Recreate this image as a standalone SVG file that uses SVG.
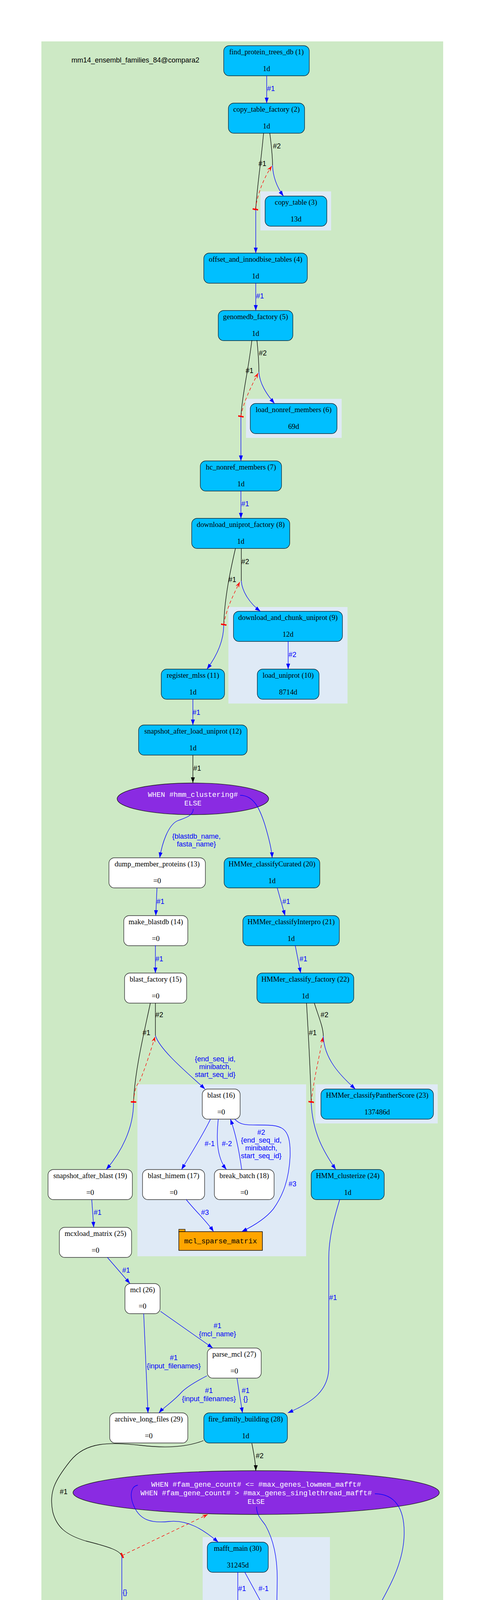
<svg xmlns="http://www.w3.org/2000/svg" width="1237" height="5248" viewBox="0 0 1237 5248">
<style>
.bg{fill:#cde9c5}
.cl{fill:#dfeaf6}
.nb{fill:#00bfff;stroke:#0c2a38;stroke-width:1.4}
.nw{fill:#ffffff;stroke:#333333;stroke-width:1.4}
.el{fill:#8a2be2;stroke:#1a1a1a;stroke-width:1.4}
.t{font-family:"Liberation Serif","Times New Roman",serif;font-size:18.67px;fill:#000;text-anchor:middle}
.m{font-family:"Liberation Mono","Courier New",monospace;font-size:18.3px;fill:#fff;text-anchor:middle}
.mk{font-family:"Liberation Mono","Courier New",monospace;font-size:18.3px;fill:#000;text-anchor:middle}
.h{font-family:"Liberation Sans",Arial,sans-serif;font-size:18px;fill:#000}
.lb{font-family:"Liberation Sans",Arial,sans-serif;font-size:18px;fill:#0000ff}
.lk{font-family:"Liberation Sans",Arial,sans-serif;font-size:18px;fill:#000}
.c{text-anchor:middle}
.eb{fill:none;stroke:#0000ff;stroke-width:1.3;marker-end:url(#ab)}
.en{fill:none;stroke:#0000ff;stroke-width:1.3}
.ek{fill:none;stroke:#000;stroke-width:1.3}
.eka{fill:none;stroke:#000;stroke-width:1.3;marker-end:url(#ak)}
.er{fill:none;stroke:#ff0000;stroke-width:1.3;stroke-dasharray:8,6;marker-start:url(#tr);marker-end:url(#vr)}
</style>
<defs>
<marker id="ab" markerUnits="userSpaceOnUse" viewBox="0 0 14 10" markerWidth="14" markerHeight="10" refX="14" refY="5" orient="auto"><path d="M0,0 L14,5 L0,10 z" fill="#0000ff"/></marker>
<marker id="ak" markerUnits="userSpaceOnUse" viewBox="0 0 14 10" markerWidth="14" markerHeight="10" refX="14" refY="5" orient="auto"><path d="M0,0 L14,5 L0,10 z" fill="#000"/></marker>
<marker id="vr" markerUnits="userSpaceOnUse" viewBox="0 0 14 10" markerWidth="14" markerHeight="10" refX="14" refY="5" orient="auto"><path d="M0,0 L14,5 L0,10 L5,5 z" fill="#ff0000"/></marker>
<marker id="tr" markerUnits="userSpaceOnUse" viewBox="0 0 4 14" markerWidth="4" markerHeight="14" refX="2" refY="7" orient="auto"><rect width="4" height="14" fill="#ff0000"/></marker>
</defs>
<rect x="0" y="0" width="1237" height="5248" fill="#ffffff"/>
<rect class="bg" x="106" y="106" width="1029" height="5038"/>
<text class="h" x="183" y="160">mm14_ensembl_families_84@compara2</text>
<g id="clusters">
<rect class="cl" x="667" y="490" width="181" height="100"/>
<rect class="cl" x="630" y="1021" width="245" height="100"/>
<rect class="cl" x="585" y="1554" width="305" height="247"/>
<rect class="cl" x="352" y="2776" width="432" height="440"/>
<rect class="cl" x="808" y="2776" width="313" height="100"/>
<rect class="cl" x="519" y="3935" width="326" height="622"/>
</g>
<g id="n1"><rect class="nb" x="573" y="117" width="219" height="77" rx="14"/><text class="t" x="682.5" y="139">find_protein_trees_db (1)</text><text class="t" x="682.5" y="182">1d</text></g>
<g id="n2"><rect class="nb" x="585" y="264" width="195" height="77" rx="14"/><text class="t" x="682.5" y="286">copy_table_factory (2)</text><text class="t" x="682.5" y="329">1d</text></g>
<g id="n3"><rect class="nb" x="679" y="502" width="158" height="77" rx="14"/><text class="t" x="758" y="524">copy_table (3)</text><text class="t" x="758" y="567">13d</text></g>
<g id="n4"><rect class="nb" x="522" y="648" width="265" height="77" rx="14"/><text class="t" x="654.5" y="670">offset_and_innodbise_tables (4)</text><text class="t" x="654.5" y="713">1d</text></g>
<g id="n5"><rect class="nb" x="559" y="795" width="191" height="77" rx="14"/><text class="t" x="654.5" y="817">genomedb_factory (5)</text><text class="t" x="654.5" y="860">1d</text></g>
<g id="n6"><rect class="nb" x="641" y="1033" width="222" height="77" rx="14"/><text class="t" x="752" y="1055">load_nonref_members (6)</text><text class="t" x="752" y="1098">69d</text></g>
<g id="n7"><rect class="nb" x="513" y="1180" width="208" height="77" rx="14"/><text class="t" x="617" y="1202">hc_nonref_members (7)</text><text class="t" x="617" y="1245">1d</text></g>
<g id="n8"><rect class="nb" x="491" y="1327" width="251" height="77" rx="14"/><text class="t" x="616.5" y="1349">download_uniprot_factory (8)</text><text class="t" x="616.5" y="1392">1d</text></g>
<g id="n9"><rect class="nb" x="598" y="1565" width="279" height="77" rx="14"/><text class="t" x="737.5" y="1587">download_and_chunk_uniprot (9)</text><text class="t" x="737.5" y="1630">12d</text></g>
<g id="n10"><rect class="nb" x="659" y="1713" width="158" height="77" rx="14"/><text class="t" x="738" y="1735">load_uniprot (10)</text><text class="t" x="738" y="1778">8714d</text></g>
<g id="n11"><rect class="nb" x="413" y="1713" width="162" height="77" rx="14"/><text class="t" x="494" y="1735">register_mlss (11)</text><text class="t" x="494" y="1778">1d</text></g>
<g id="n12"><rect class="nb" x="355" y="1856" width="278" height="77" rx="14"/><text class="t" x="494" y="1878">snapshot_after_load_uniprot (12)</text><text class="t" x="494" y="1921">1d</text></g>
<g id="c1"><ellipse class="el" cx="494" cy="2045" rx="194" ry="40.5"/><text class="m" x="494" y="2040">WHEN #hmm_clustering#</text><text class="m" x="494" y="2062">ELSE</text></g>
<g id="n13"><rect class="nw" x="279" y="2196" width="247" height="77" rx="14"/><text class="t" x="402.5" y="2218">dump_member_proteins (13)</text><text class="t" x="402.5" y="2261">=0</text></g>
<g id="n20"><rect class="nb" x="574" y="2196" width="245" height="77" rx="14"/><text class="t" x="696.5" y="2218">HMMer_classifyCurated (20)</text><text class="t" x="696.5" y="2261">1d</text></g>
<g id="n14"><rect class="nw" x="317" y="2344" width="164" height="77" rx="14"/><text class="t" x="399" y="2366">make_blastdb (14)</text><text class="t" x="399" y="2409">=0</text></g>
<g id="n21"><rect class="nb" x="622" y="2344" width="247" height="77" rx="14"/><text class="t" x="745.5" y="2366">HMMer_classifyInterpro (21)</text><text class="t" x="745.5" y="2409">1d</text></g>
<g id="n15"><rect class="nw" x="319" y="2491" width="159" height="77" rx="14"/><text class="t" x="398.5" y="2513">blast_factory (15)</text><text class="t" x="398.5" y="2556">=0</text></g>
<g id="n22"><rect class="nb" x="658" y="2491" width="248" height="77" rx="14"/><text class="t" x="782" y="2513">HMMer_classify_factory (22)</text><text class="t" x="782" y="2556">1d</text></g>
<g id="n16"><rect class="nw" x="518" y="2788" width="97" height="77" rx="14"/><text class="t" x="566.5" y="2810">blast (16)</text><text class="t" x="566.5" y="2853">=0</text></g>
<g id="n23"><rect class="nb" x="822" y="2788" width="288" height="77" rx="14"/><text class="t" x="966" y="2810">HMMer_classifyPantherScore (23)</text><text class="t" x="966" y="2853">137486d</text></g>
<g id="n19"><rect class="nw" x="123" y="2994" width="216" height="77" rx="14"/><text class="t" x="231" y="3016">snapshot_after_blast (19)</text><text class="t" x="231" y="3059">=0</text></g>
<g id="n17"><rect class="nw" x="365" y="2994" width="159" height="77" rx="14"/><text class="t" x="444.5" y="3016">blast_himem (17)</text><text class="t" x="444.5" y="3059">=0</text></g>
<g id="n18"><rect class="nw" x="549" y="2994" width="153" height="77" rx="14"/><text class="t" x="625.5" y="3016">break_batch (18)</text><text class="t" x="625.5" y="3059">=0</text></g>
<g id="n24"><rect class="nb" x="797" y="2994" width="187" height="77" rx="14"/><text class="t" x="890.5" y="3016">HMM_clusterize (24)</text><text class="t" x="890.5" y="3059">1d</text></g>
<g id="t_mcl_sparse_matrix"><rect x="458" y="3147" width="16" height="6" fill="#ffa500" stroke="#000" stroke-width="1.2"/><rect x="458" y="3153" width="214" height="48" fill="#ffa500" stroke="#000" stroke-width="1.4"/><text class="mk" x="565" y="3183">mcl_sparse_matrix</text></g>
<g id="n25"><rect class="nw" x="152" y="3142" width="185" height="77" rx="14"/><text class="t" x="244.5" y="3164">mcxload_matrix (25)</text><text class="t" x="244.5" y="3207">=0</text></g>
<g id="n26"><rect class="nw" x="320" y="3286" width="90" height="77" rx="14"/><text class="t" x="365" y="3308">mcl (26)</text><text class="t" x="365" y="3350">=0</text></g>
<g id="n27"><rect class="nw" x="531" y="3451" width="138" height="77" rx="14"/><text class="t" x="600" y="3473">parse_mcl (27)</text><text class="t" x="600" y="3516">=0</text></g>
<g id="n29"><rect class="nw" x="281" y="3617" width="200" height="77" rx="14"/><text class="t" x="381" y="3639">archive_long_files (29)</text><text class="t" x="381" y="3682">=0</text></g>
<g id="n28"><rect class="nb" x="522" y="3617" width="214" height="77" rx="14"/><text class="t" x="629" y="3639">fire_family_building (28)</text><text class="t" x="629" y="3682">1d</text></g>
<g id="c2"><ellipse class="el" cx="656" cy="3821" rx="469" ry="56"/><text class="m" x="656" y="3806">WHEN #fam_gene_count# &lt;= #max_genes_lowmem_mafft#</text><text class="m" x="656" y="3828">WHEN #fam_gene_count# &gt; #max_genes_singlethread_mafft#</text><text class="m" x="656" y="3850">ELSE</text></g>
<g id="n30"><rect class="nb" x="531" y="3948" width="156" height="77" rx="14"/><text class="t" x="609" y="3970">mafft_main (30)</text><text class="t" x="609" y="4013">31245d</text></g>
<g id="n33"><rect class="nb" x="172" y="4113" width="279" height="77" rx="14"/><text class="t" x="311.5" y="4135">find_update_singleton_cigars (33)</text><text class="t" x="311.5" y="4178">1d</text></g>
<g id="n31"><rect class="nb" x="627" y="4113" width="155" height="77" rx="14"/><text class="t" x="704.5" y="4135">mafft_big (31)</text><text class="t" x="704.5" y="4178">678d</text></g>
<g id="n35"><rect class="nb" x="531" y="4215" width="156" height="77" rx="14"/><text class="t" x="609" y="4237">consensifier (35)</text><text class="t" x="609" y="4280">30591d</text></g>
<g id="n32"><rect class="nb" x="677" y="4319" width="156" height="77" rx="14"/><text class="t" x="755" y="4341">mafft_huge (32)</text><text class="t" x="755" y="4384">26d</text></g>
<g id="c3"><ellipse class="el" cx="311" cy="4357" rx="194" ry="40.5"/><text class="m" x="311" y="4352">WHEN #hmm_clustering#</text><text class="m" x="311" y="4374">ELSE</text></g>
<g id="n34"><rect class="nw" x="137" y="4469" width="261" height="77" rx="14"/><text class="t" x="267.5" y="4491">insert_redundant_peptides (34)</text><text class="t" x="267.5" y="4534">=0</text></g>
<g id="n36"><rect class="nb" x="559" y="4469" width="215" height="77" rx="14"/><text class="t" x="666.5" y="4491">consensifier_himem (36)</text><text class="t" x="666.5" y="4534">681d</text></g>
<g id="n37"><rect class="nw" x="192" y="4616" width="169" height="77" rx="14"/><text class="t" x="276.5" y="4638">stable_id_map (37)</text><text class="t" x="276.5" y="4681">=0</text></g>
<g id="n38"><rect class="nb" x="164" y="4763" width="230" height="77" rx="14"/><text class="t" x="279" y="4785">write_member_counts (38)</text><text class="t" x="279" y="4828">1d</text></g>
<g id="n39"><rect class="nb" x="136" y="4909" width="287" height="77" rx="14"/><text class="t" x="279.5" y="4931">warehouse_working_directory (39)</text><text class="t" x="279.5" y="4974">1d</text></g>
<g id="n40"><rect class="nb" x="149" y="5056" width="261" height="77" rx="14"/><text class="t" x="279.5" y="5078">notify_pipeline_completed (40)</text><text class="t" x="279.5" y="5121">1d</text></g>
<g id="edges">
<path class="eb" d="M683,194 L683,264"/><text class="lb" x="684" y="233">#1</text>
<path class="ek" d="M675,341 C668,420 658,480 655,537"/>
<path class="eb" d="M655,537 L655,648"/>
<path class="ek" d="M691,341 C696,380 698,400 698,423"/>
<path class="eb" d="M698,423 C699,452 710,480 726,502"/>
<path class="er" d="M654,536 C660,492 678,452 696,425"/>
<text class="lk" x="699" y="380">#2</text><text class="lk" x="662" y="425">#1</text>
<path class="eb" d="M655,725 L655,795"/><text class="lb" x="656" y="764">#1</text>
<path class="ek" d="M645,871 C636,950 620,1010 617,1067"/>
<path class="eb" d="M617,1067 L617,1180"/>
<path class="ek" d="M658,871 C661,900 663,930 663,952"/>
<path class="eb" d="M663,952 C665,982 682,1008 703,1033"/>
<path class="er" d="M617,1066 C623,1030 643,990 661,955"/>
<text class="lk" x="663" y="910">#2</text><text class="lk" x="629" y="955">#1</text>
<path class="eb" d="M617,1256 L617,1327"/><text class="lb" x="618" y="1296">#1</text>
<path class="ek" d="M603,1404 C590,1460 575,1530 573,1600"/>
<path class="eb" d="M573,1600 C573,1640 556,1678 530,1713"/>
<path class="ek" d="M618,1404 L618,1487"/>
<path class="eb" d="M618,1487 C620,1515 640,1545 667,1565"/>
<path class="er" d="M573,1599 C579,1560 598,1522 614,1490"/>
<text class="lk" x="618" y="1444">#2</text><text class="lk" x="585" y="1490">#1</text>
<path class="eb" d="M738,1642 L738,1713"/><text class="lb" x="739" y="1682">#2</text>
<path class="eb" d="M494,1790 L494,1856"/><text class="lb" x="493" y="1830">#1</text>
<path class="eka" d="M494,1933 L494,2004"/><text class="lk" x="495" y="1973">#1</text>
<path class="eb" d="M495,2071 C495,2090 470,2095 455,2101 C430,2112 415,2160 409,2196"/>
<text class="lb c" x="503" y="2147">{blastdb_name,</text><text class="lb c" x="503" y="2167">fasta_name}</text>
<path class="eb" d="M615,2036 C650,2036 665,2070 678,2110 C690,2150 696,2175 697,2196"/>
<path class="eb" d="M402,2273 L399,2344"/><text class="lb" x="401" y="2314">#1</text>
<path class="eb" d="M710,2273 L730,2344"/><text class="lb" x="723" y="2314">#1</text>
<path class="eb" d="M398,2420 L398,2491"/><text class="lb" x="398" y="2461">#1</text>
<path class="eb" d="M756,2420 L770,2491"/><text class="lb" x="767" y="2461">#1</text>
<path class="ek" d="M385,2568 C370,2640 345,2740 342,2822"/>
<path class="eb" d="M342,2822 C342,2890 310,2950 272,2994"/>
<path class="ek" d="M398,2568 L398,2651"/>
<path class="eb" d="M398,2651 C410,2690 490,2755 525,2788"/>
<path class="er" d="M342,2821 C344,2790 350,2776 357,2770 C370,2740 386,2690 397,2654"/>
<text class="lk" x="398" y="2604">#2</text><text class="lk" x="365" y="2650">#1</text>
<text class="lb c" x="551" y="2717">{end_seq_id,</text><text class="lb c" x="551" y="2737">minibatch,</text><text class="lb c" x="551" y="2757">start_seq_id}</text>
<path class="ek" d="M785,2568 C790,2650 795,2750 797,2822"/>
<path class="eb" d="M797,2822 C800,2900 830,2950 860,2994"/>
<path class="ek" d="M805,2568 C815,2600 828,2630 828,2652"/>
<path class="eb" d="M828,2652 C830,2710 870,2752 910,2788"/>
<path class="er" d="M797,2821 C804,2760 819,2700 827,2655"/>
<text class="lk" x="821" y="2604">#2</text><text class="lk" x="791" y="2650">#1</text>
<path class="eb" d="M539,2865 C520,2905 485,2960 465,2994"/><text class="lb c" x="537" y="2934">#-1</text>
<path class="eb" d="M559,2865 C555,2905 552,2960 580,2994"/><text class="lb c" x="581" y="2934">#-2</text>
<path class="eb" d="M619,2994 C613,2950 603,2900 590,2865"/>
<text class="lb c" x="669" y="2905">#2</text><text class="lb c" x="669" y="2925">{end_seq_id,</text><text class="lb c" x="669" y="2945">minibatch,</text><text class="lb c" x="669" y="2965">start_seq_id}</text>
<path class="eb" d="M601,2865 C615,2880 630,2880 660,2880 C720,2880 745,2880 743,2960 C740,3020 725,3060 700,3095 C680,3120 650,3138 619,3153"/><text class="lb" x="739" y="3037">#3</text>
<path class="eb" d="M477,3071 C500,3100 530,3127 547,3153"/><text class="lb" x="515" y="3110">#3</text>
<path class="eb" d="M235,3071 L240,3142"/><text class="lb" x="240" y="3110">#1</text>
<path class="eb" d="M275,3219 L333,3286"/><text class="lb" x="313" y="3258">#1</text>
<path class="eb" d="M870,3071 C855,3120 842,3170 842,3220 L842,3500 C842,3560 800,3590 737,3617"/><text class="lb" x="843" y="3328">#1</text>
<path class="eb" d="M411,3357 L545,3451"/><text class="lb c" x="557" y="3400">#1</text><text class="lb c" x="557" y="3421">{mcl_name}</text>
<path class="eb" d="M368,3363 L379,3617"/><text class="lb c" x="445" y="3482">#1</text><text class="lb c" x="445" y="3503">{input_filenames}</text>
<path class="eb" d="M530,3522 C505,3535 480,3550 467,3562 C442,3590 422,3600 407,3617"/><text class="lb c" x="535" y="3566">#1</text><text class="lb c" x="535" y="3587">{input_filenames}</text>
<path class="eb" d="M607,3528 L621,3617"/><text class="lb c" x="629" y="3566">#1</text><text class="lb c" x="629" y="3587">{}</text>
<path class="eka" d="M645,3695 C650,3720 655,3745 655,3765"/><text class="lk" x="655" y="3733">#2</text>
<path class="ek" d="M521,3688 C490,3700 440,3710 360,3700 C280,3692 220,3690 180,3740 C140,3790 125,3820 135,3870 C145,3910 170,3930 220,3945 C280,3960 310,3970 312,3985"/>
<text class="lk c" x="163" y="3825">#1</text>
<path class="eb" d="M312,3985 L312,4113"/><text class="lb" x="314" y="4082">{}</text>
<path class="er" d="M313,3982 L532,3877"/>
<path class="eb" d="M353,3802 C335,3805 330,3830 345,3860 C360,3890 385,3900 433,3895 C480,3890 520,3915 559,3948"/>
<path class="eb" d="M657,3857 C657,3880 670,3890 680,3905 C705,3950 710,4000 710,4040 L709,4113"/>
<path class="eb" d="M960,3824 C1010,3824 1037,3860 1035,3930 C1033,4000 1000,4060 960,4130 C910,4210 830,4270 787,4319"/>
<path class="eb" d="M609,4025 L609,4215"/><text class="lb" x="610" y="4073">#1</text>
<path class="eb" d="M627,4025 L675,4113"/><text class="lb" x="662" y="4073">#-1</text>
<path class="eb" d="M708,4190 C712,4230 720,4280 735,4319"/><text class="lb" x="727" y="4256">#-1</text>
<path class="eb" d="M705,4190 C703,4240 702,4290 680,4302 C655,4312 650,4320 640,4345 C620,4390 625,4425 645,4469"/><text class="lb" x="643" y="4361">#1</text>
<path class="eb" d="M582,4292 C570,4330 560,4370 567,4390 C575,4410 590,4412 605,4416 C625,4423 635,4440 645,4469"/><text class="lb" x="573" y="4361">#-1</text>
<path class="eb" d="M732,4396 L690,4469"/><text class="lb" x="717" y="4437">#1</text>
<path class="eka" d="M312,4190 L312,4316"/><text class="lk" x="312" y="4257">#1</text>
<path class="eb" d="M313,4384 C313,4410 305,4440 292,4469"/>
<path class="eb" d="M433,4349 C475,4349 505,4375 500,4440 C494,4510 455,4590 425,4660 C410,4695 345,4735 321,4763"/>
<path class="eb" d="M270,4546 L273,4616"/><text class="lb" x="273" y="4585">#1</text>
<path class="eb" d="M277,4693 L278,4763"/><text class="lb" x="280" y="4732">#1</text>
<path class="eb" d="M279,4840 L279,4909"/><text class="lb" x="280" y="4878">#1</text>
<path class="eb" d="M279,4986 L279,5056"/><text class="lb" x="280" y="5026">#1</text>
</g>
</svg>
